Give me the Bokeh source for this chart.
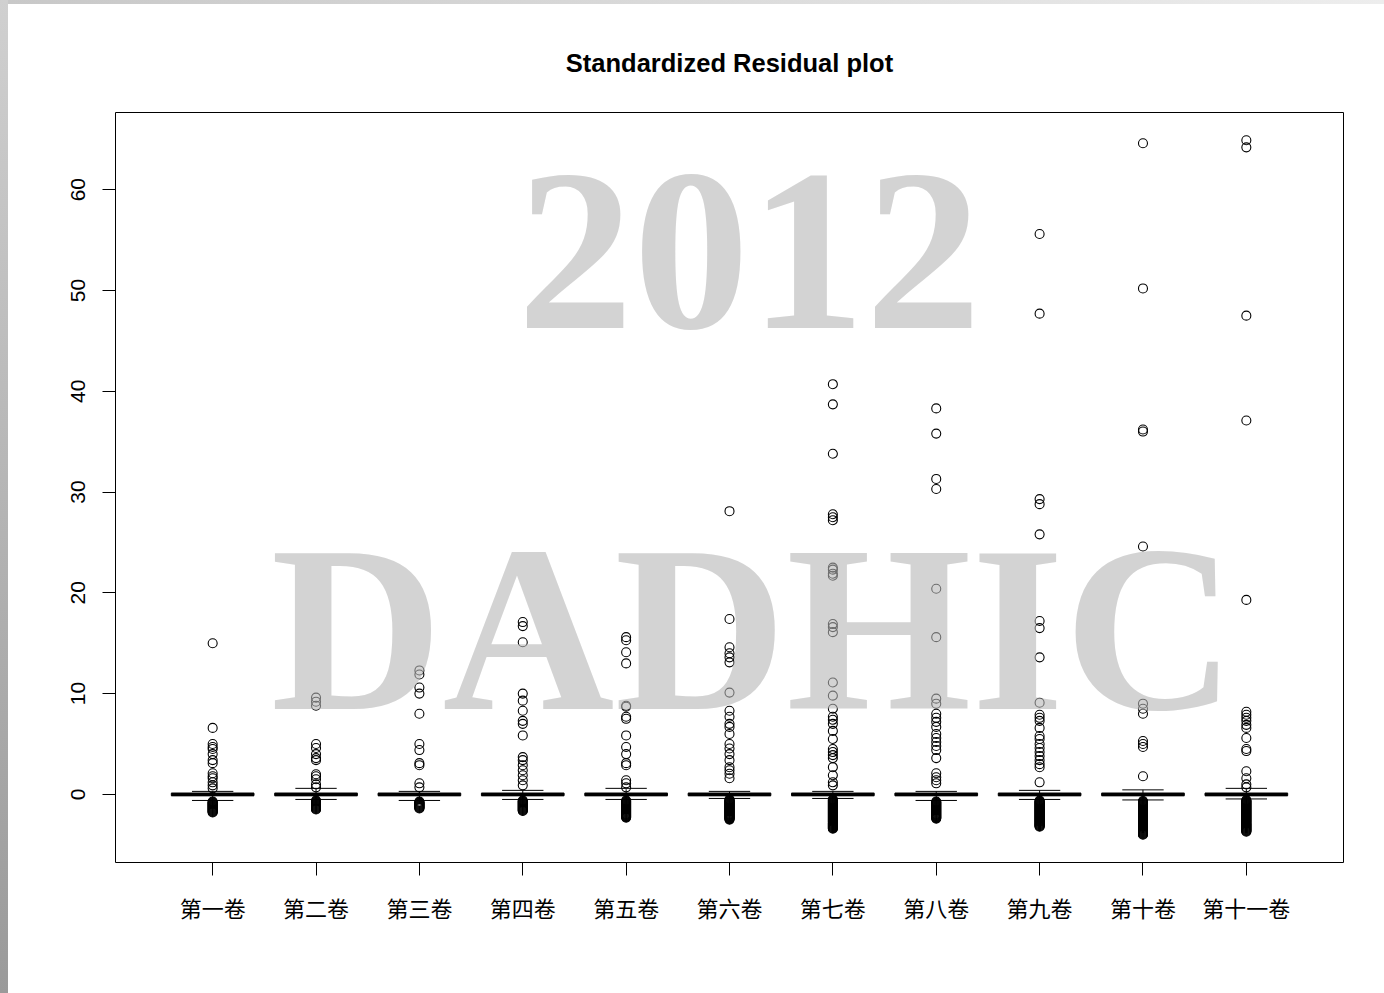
from bokeh.plotting import figure
from bokeh.models import Range1d, FixedTicker, Label, Div
from bokeh.layouts import row, column
from bokeh.embed import file_html
from bokeh.resources import INLINE

# ---------------- data ----------------
categories = ["第一卷", "第二卷", "第三卷", "第四卷", "第五卷", "第六卷",
              "第七卷", "第八卷", "第九卷", "第十卷", "第十一卷"]
medians = [0.0, 0.0, 0.0, 0.0, 0.0, 0.0, 0.0, 0.0, 0.0, 0.0, 0.0]
q1 = [-0.12, -0.12, -0.12, -0.12, -0.12, -0.12, -0.12, -0.12, -0.12, -0.12, -0.12]
q3 = [0.12, 0.12, 0.12, 0.12, 0.12, 0.12, 0.12, 0.12, 0.12, 0.12, 0.12]
whisk_lo = [-0.6, -0.5, -0.6, -0.5, -0.5, -0.4, -0.4, -0.6, -0.5, -0.55, -0.45]
whisk_hi = [0.3, 0.6, 0.3, 0.4, 0.6, 0.3, 0.3, 0.3, 0.4, 0.45, 0.6]

out_hi_1 = [15.0, 6.6, 5.0, 4.7, 4.5, 4.0, 3.4, 3.1, 2.1, 1.8, 1.6, 1.2, 0.9, 0.6]
out_hi_2 = [9.6, 9.2, 8.8, 5.0, 4.6, 4.0, 3.6, 3.4, 2.0, 1.8, 1.5, 1.0, 0.7]
out_hi_3 = [12.3, 11.9, 10.6, 10.0, 8.0, 5.0, 4.4, 3.1, 2.9, 1.1, 0.7]
out_hi_4 = [17.1, 16.7, 15.1, 10.0, 9.3, 8.3, 7.3, 7.0, 5.85, 3.7, 3.4, 2.9, 2.4, 1.9, 1.4, 0.9]
out_hi_5 = [15.6, 15.3, 14.1, 13.0, 8.8, 8.7, 7.7, 7.5, 5.85, 4.7, 4.0, 3.1, 2.9, 1.4, 1.1, 0.7]
out_hi_6 = [28.1, 17.4, 14.6, 14.0, 13.6, 13.1, 10.1, 8.3, 7.7, 7.0, 6.7, 6.0, 5.0, 4.55,
            4.0, 3.4, 2.7, 2.4, 2.05, 1.6]
out_hi_7 = [40.7, 38.7, 33.8, 27.8, 27.5, 27.2, 22.5, 22.3, 21.9, 21.7, 16.9, 16.6, 16.1,
            11.1, 9.8, 8.5, 7.7, 7.4, 7.0, 6.3, 5.5, 4.5, 4.2, 3.9, 3.6, 2.7, 1.9, 1.2, 0.9]
out_hi_8 = [38.3, 35.8, 31.3, 30.3, 20.4, 15.6, 9.5, 9.0, 8.0, 7.6, 7.2, 6.7, 6.0, 5.6,
            5.2, 4.8, 4.4, 3.6, 2.1, 1.7, 1.4, 1.1]
out_hi_9 = [55.6, 47.7, 29.3, 28.8, 25.8, 17.2, 16.5, 13.6, 9.1, 7.9, 7.6, 7.3, 6.6, 5.8,
            5.5, 5.0, 4.6, 4.2, 3.8, 3.4, 3.0, 2.7, 1.2]
out_hi_10 = [64.6, 50.2, 36.2, 36.0, 24.6, 9.0, 8.5, 8.0, 5.3, 5.0, 4.7, 1.8]
out_hi_11 = [64.9, 64.2, 47.5, 37.1, 19.3, 8.2, 7.9, 7.6, 7.3, 6.9, 6.6, 5.6, 4.5, 4.3,
             2.3, 1.6, 1.0, 0.7]

# dense band of low outliers (read as a solid column of circles)
out_lo_1 = [-0.7, -0.75, -0.8, -0.85, -0.9, -0.95, -1.0, -1.05, -1.1, -1.15, -1.2, -1.25,
            -1.3, -1.35, -1.4, -1.45, -1.5, -1.55, -1.6, -1.65, -1.7, -1.75, -1.8]
out_lo_2 = [-0.6, -0.65, -0.7, -0.75, -0.8, -0.85, -0.9, -0.95, -1.0, -1.05, -1.1, -1.15,
            -1.2, -1.25, -1.3, -1.35, -1.4, -1.45, -1.5]
out_lo_3 = [-0.7, -0.75, -0.8, -0.85, -0.9, -0.95, -1.0, -1.05, -1.1, -1.15, -1.2, -1.25,
            -1.3, -1.35, -1.4]
out_lo_4 = [-0.6, -0.65, -0.7, -0.75, -0.8, -0.85, -0.9, -0.95, -1.0, -1.05, -1.1, -1.15,
            -1.2, -1.25, -1.3, -1.35, -1.4, -1.45, -1.5, -1.55, -1.6, -1.65]
out_lo_5 = [-0.6, -0.65, -0.7, -0.75, -0.8, -0.85, -0.9, -0.95, -1.0, -1.05, -1.1, -1.15,
            -1.2, -1.25, -1.3, -1.35, -1.4, -1.45, -1.5, -1.55, -1.6, -1.65, -1.7, -1.75,
            -1.8, -1.85, -1.9, -1.95, -2.0, -2.05, -2.1, -2.15, -2.2, -2.25, -2.3]
out_lo_6 = [-0.5, -0.55, -0.6, -0.65, -0.7, -0.75, -0.8, -0.85, -0.9, -0.95, -1.0, -1.05,
            -1.1, -1.15, -1.2, -1.25, -1.3, -1.35, -1.4, -1.45, -1.5, -1.55, -1.6, -1.65,
            -1.7, -1.75, -1.8, -1.85, -1.9, -1.95, -2.0, -2.05, -2.1, -2.15, -2.2, -2.25,
            -2.3, -2.35, -2.4, -2.45, -2.5]
out_lo_7 = [-0.5, -0.55, -0.6, -0.65, -0.7, -0.75, -0.8, -0.85, -0.9, -0.95, -1.0, -1.05,
            -1.1, -1.15, -1.2, -1.25, -1.3, -1.35, -1.4, -1.45, -1.5, -1.55, -1.6, -1.65,
            -1.7, -1.75, -1.8, -1.85, -1.9, -1.95, -2.0, -2.05, -2.1, -2.15, -2.2, -2.25,
            -2.3, -2.35, -2.4, -2.45, -2.5, -2.55, -2.6, -2.65, -2.7, -2.75, -2.8, -2.85,
            -2.9, -2.95, -3.0, -3.05, -3.1, -3.15, -3.2, -3.25, -3.3, -3.35, -3.4]
out_lo_8 = [-0.7, -0.75, -0.8, -0.85, -0.9, -0.95, -1.0, -1.05, -1.1, -1.15, -1.2, -1.25,
            -1.3, -1.35, -1.4, -1.45, -1.5, -1.55, -1.6, -1.65, -1.7, -1.75, -1.8, -1.85,
            -1.9, -1.95, -2.0, -2.05, -2.1, -2.15, -2.2, -2.25, -2.3, -2.35, -2.4]
out_lo_9 = [-0.6, -0.65, -0.7, -0.75, -0.8, -0.85, -0.9, -0.95, -1.0, -1.05, -1.1, -1.15,
            -1.2, -1.25, -1.3, -1.35, -1.4, -1.45, -1.5, -1.55, -1.6, -1.65, -1.7, -1.75,
            -1.8, -1.85, -1.9, -1.95, -2.0, -2.05, -2.1, -2.15, -2.2, -2.25, -2.3, -2.35,
            -2.4, -2.45, -2.5, -2.55, -2.6, -2.65, -2.7, -2.75, -2.8, -2.85, -2.9, -2.95,
            -3.0, -3.05, -3.1, -3.15, -3.2]
out_lo_10 = [-0.65, -0.7, -0.75, -0.8, -0.85, -0.9, -0.95, -1.0, -1.05, -1.1, -1.15, -1.2,
             -1.25, -1.3, -1.35, -1.4, -1.45, -1.5, -1.55, -1.6, -1.65, -1.7, -1.75, -1.8,
             -1.85, -1.9, -1.95, -2.0, -2.05, -2.1, -2.15, -2.2, -2.25, -2.3, -2.35, -2.4,
             -2.45, -2.5, -2.55, -2.6, -2.65, -2.7, -2.75, -2.8, -2.85, -2.9, -2.95, -3.0,
             -3.05, -3.1, -3.15, -3.2, -3.25, -3.3, -3.35, -3.4, -3.45, -3.5, -3.55, -3.6,
             -3.65, -3.7, -3.75, -3.8, -3.85, -3.9, -3.95, -4.0]
out_lo_11 = [-0.55, -0.6, -0.65, -0.7, -0.75, -0.8, -0.85, -0.9, -0.95, -1.0, -1.05, -1.1,
             -1.15, -1.2, -1.25, -1.3, -1.35, -1.4, -1.45, -1.5, -1.55, -1.6, -1.65, -1.7,
             -1.75, -1.8, -1.85, -1.9, -1.95, -2.0, -2.05, -2.1, -2.15, -2.2, -2.25, -2.3,
             -2.35, -2.4, -2.45, -2.5, -2.55, -2.6, -2.65, -2.7, -2.75, -2.8, -2.85, -2.9,
             -2.95, -3.0, -3.05, -3.1, -3.15, -3.2, -3.25, -3.3, -3.35, -3.4, -3.45, -3.5,
             -3.55, -3.6, -3.65, -3.7]

y_ticks = [0, 10, 20, 30, 40, 50, 60]

outliers = [out_hi_1 + out_lo_1, out_hi_2 + out_lo_2, out_hi_3 + out_lo_3,
            out_hi_4 + out_lo_4, out_hi_5 + out_lo_5, out_hi_6 + out_lo_6,
            out_hi_7 + out_lo_7, out_hi_8 + out_lo_8, out_hi_9 + out_lo_9,
            out_hi_10 + out_lo_10, out_hi_11 + out_lo_11]

# ---------------- geometry derived from data ----------------
n = len(categories)
xs = list(range(1, n + 1))
all_y = [v for o in outliers for v in o] + whisk_lo + whisk_hi
ymin, ymax = min(all_y), max(all_y)
yspan = ymax - ymin
xlo, xhi = 0.5, n + 0.5
xspan = xhi - xlo

W, H = 1376, 989
p = figure(width=W, height=H, output_backend="svg", toolbar_location=None,
           x_range=Range1d(xlo - 0.04 * xspan, xhi + 0.04 * xspan),
           y_range=Range1d(ymin - 0.04 * yspan, ymax + 0.04 * yspan),
           min_border_left=107, min_border_right=41,
           min_border_top=108, min_border_bottom=131,
           title="Standardized Residual plot")
p.title.align = "center"
p.title.text_font = "Liberation Sans"
p.title.text_font_style = "bold"
p.title.text_font_size = "25.5px"
p.title.text_color = "black"
p.title.standoff = 72

p.background_fill_color = "white"
p.border_fill_color = "white"
p.outline_line_color = "black"
p.outline_line_width = 1
p.xgrid.visible = False
p.ygrid.visible = False

for ax in (p.xaxis[0], p.yaxis[0]):
    ax.axis_line_color = None
    ax.major_tick_in = 0
    ax.major_tick_out = 13
    ax.major_tick_line_color = "black"
    ax.major_tick_line_width = 1
    ax.minor_tick_line_color = None
    ax.major_label_text_color = "black"

p.xaxis.ticker = FixedTicker(ticks=xs)
p.xaxis.major_label_overrides = {x: c for x, c in zip(xs, categories)}
p.xaxis.major_label_text_font = "Noto Sans CJK SC"
p.xaxis.major_label_text_font_size = "22px"
p.xaxis.major_label_standoff = 15

p.yaxis.ticker = FixedTicker(ticks=y_ticks)
p.yaxis.major_label_orientation = "vertical"
p.yaxis.major_label_text_font = "Liberation Sans"
p.yaxis.major_label_text_font_size = "21px"
p.yaxis.major_label_standoff = 17

# boxes
half = 0.4
p.quad(left=[x - half for x in xs], right=[x + half for x in xs],
       bottom=q1, top=q3, fill_color="white", line_color="black", line_width=1)
# whiskers
p.segment(x0=xs, y0=q3, x1=xs, y1=whisk_hi, line_color="black", line_dash="4 3")
p.segment(x0=xs, y0=q1, x1=xs, y1=whisk_lo, line_color="black", line_dash="4 3")
# staples
p.segment(x0=[x - half / 2 for x in xs], x1=[x + half / 2 for x in xs],
          y0=whisk_hi, y1=whisk_hi, line_color="black", line_width=1)
p.segment(x0=[x - half / 2 for x in xs], x1=[x + half / 2 for x in xs],
          y0=whisk_lo, y1=whisk_lo, line_color="black", line_width=1)
# medians
p.segment(x0=[x - half for x in xs], x1=[x + half for x in xs],
          y0=medians, y1=medians, line_color="black", line_width=3.5)

# outliers
ox, oy = [], []
for x, vals in zip(xs, outliers):
    for v in vals:
        ox.append(x)
        oy.append(v)
p.scatter(ox, oy, marker="circle", size=9, fill_color=None,
          line_color="black", line_width=1.1)

# watermark (semi-transparent overlay)
p.add_layout(Label(x=6.19, y=53.8, text="2012", text_font="Liberation Serif",
                   text_font_style="bold", text_font_size="232px",
                   text_color="#b6b6b6", text_alpha=0.6,
                   text_align="center", text_baseline="alphabetic"))
p.add_layout(Label(x=6.23, y=16.5, text="DADHIC", text_font="Liberation Serif",
                   text_font_style="bold", text_font_size="238px",
                   text_color="#b6b6b6", text_alpha=0.6,
                   text_align="center", text_baseline="alphabetic"))

left_bar = Div(text="", width=8, height=993, margin=0,
               styles={"background": "linear-gradient(to bottom, #d0d0d0, #9a9a9a)"})
top_bar = Div(text="", width=W, height=4, margin=0,
              styles={"background": "linear-gradient(to right, #c8c8c8, #ededed)"})

layout = row(left_bar, column(top_bar, p, spacing=0), spacing=0)
open("out.html", "w").write(file_html(layout, INLINE))
